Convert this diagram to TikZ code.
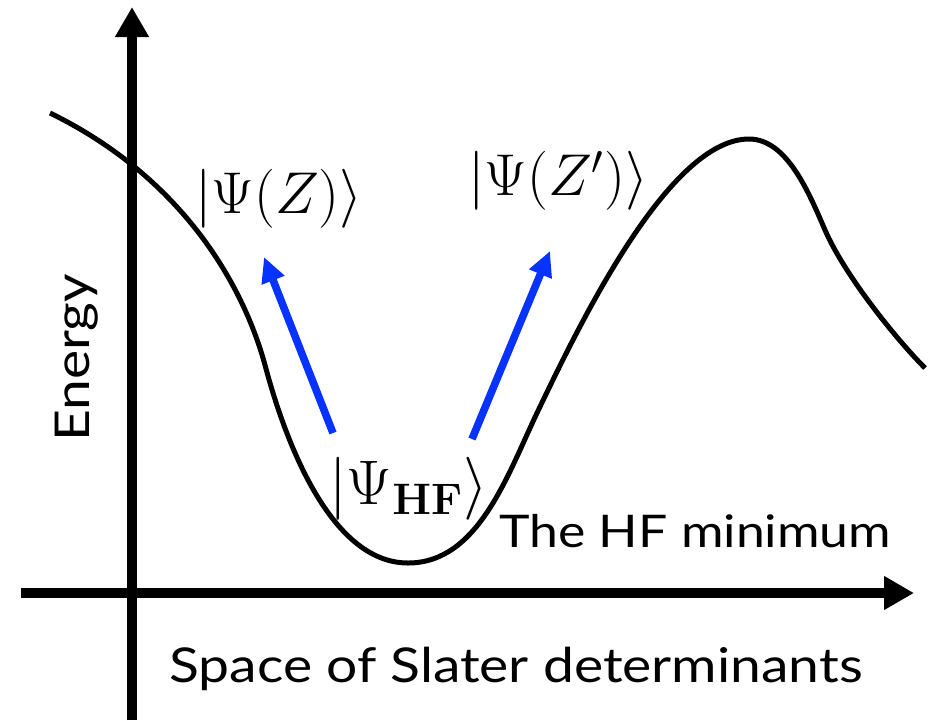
\RequirePackage{fix-cm}
\documentclass[tikz,border=0pt]{standalone}
\usepackage{amsmath,amssymb}
\usepackage[no-math]{fontspec}
\setmainfont{Lato}[FakeStretch=1.15]
\usepackage{tikz}
\usetikzlibrary{arrows.meta}

\definecolor{movblue}{RGB}{8,50,255}

\begin{document}
\begin{tikzpicture}[x=0.5pt,y=-0.5pt,
		axis/.style={line width=5pt,-{Triangle[length=15pt,width=16pt]}},
		pes/.style={line width=2.5pt},
		excite/.style={line width=3.8pt,movblue,-{Triangle[length=12.5pt,width=11.5pt]}},
		ketlabel/.style={inner sep=0pt,anchor=west,font=\fontsize{29.5}{35}\selectfont},
		axlabel/.style={inner sep=0pt,anchor=base west,font=\fontsize{24}{29}\selectfont}]
		
		\useasboundingbox (0,0) rectangle (928,720);
		
		% Axes
		\coordinate (ybot) at (132,720);
		\coordinate (ytop) at (132,7);
		\coordinate (xleft) at (21,593);
		\coordinate (xright) at (914,593);
		\draw[axis] (ybot)--(ytop);
		\draw[axis] (xleft)--(xright);
		
		% Energy surface
		\draw[pes]
		(50,113)
		.. controls (185,179) and (244,288) .. (265,365)
		.. controls (283,433) and (328,563) .. (408,563)
		.. controls (478,563) and (507,476) .. (537,413)
		.. controls (580,323) and (669,139) .. (749,139)
		.. controls (787,139) and (809,193) .. (825,230)
		.. controls (845,276) and (897,340) .. (925,368);
		
		% Labels
		\node[ketlabel] (psiZ) at (195,199) {$|\Psi(Z)\rangle$};
		\node[ketlabel] (psiZp) at (468,181) {$|\Psi(Z')\rangle$};
		\node[ketlabel,font=\fontsize{31.5}{38}\selectfont] (psiHF) at (329,489) {$|\Psi_{\mathbf{HF}}\rangle$};
		
		\node[axlabel,font=\fontsize{22.5}{27}\selectfont] (hfmin) at (499,547) {The HF minimum};
		\node[axlabel] (xlab) at (169,682) {Space of Slater determinants};
		\node[axlabel,rotate=90] (ylab) at (90,442) {Energy};
		
		% Moves away from the HF state
		\coordinate (hfL) at (333,433);
		\coordinate (hfR) at (472,439);
		\coordinate (toZ) at (264,257);
		\coordinate (toZp) at (550,251);
		\draw[excite] (hfL)--(toZ);
		\draw[excite] (hfR)--(toZp);
		
	\end{tikzpicture}
\end{document}
